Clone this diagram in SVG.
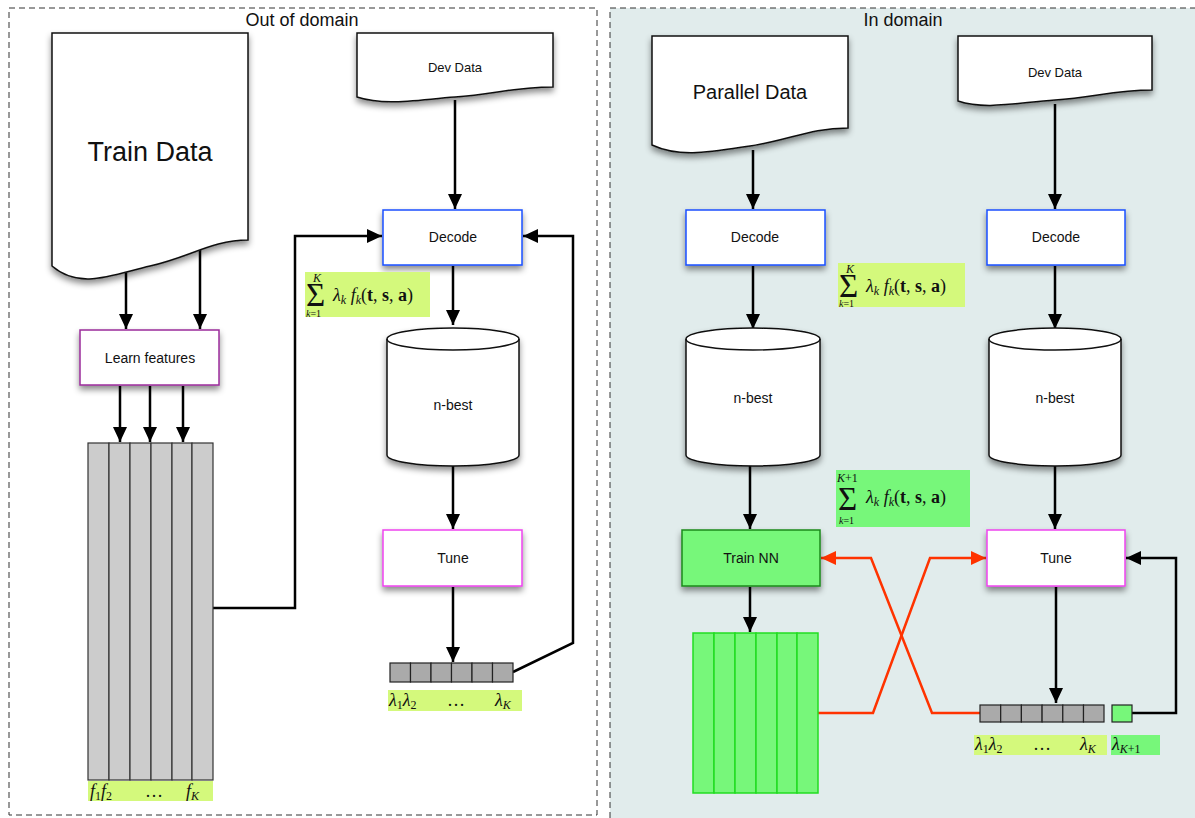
<svg xmlns="http://www.w3.org/2000/svg" width="1195" height="818" viewBox="0 0 1195 818">
<style>
.panel{fill:none;stroke:#333;stroke-width:1;stroke-dasharray:6 4}
.title{font-family:"Liberation Sans",Arial,sans-serif;font-size:18px;fill:#111;text-anchor:middle}
.lbl{font-family:"Liberation Sans",Arial,sans-serif;font-size:14px;fill:#111;text-anchor:middle}
.doc{fill:#fff;stroke:#111;stroke-width:1.5}
.box{fill:#fff;stroke-width:1.5}
.cyl{fill:#fff;stroke:#111;stroke-width:1.5}
.arr{fill:none;stroke:#000;stroke-width:2.5;marker-end:url(#ah)}
.red{fill:none;stroke:#ff3300;stroke-width:2.5}
.gcell{fill:#cccccc;stroke:#333;stroke-width:1.2}
.vcell{fill:#aaaaaa;stroke:#222;stroke-width:1.2}
.grcell{fill:#77f77a;stroke:#22dd22;stroke-width:1.5}
.yl{fill:#d4f97c}
.gl{fill:#77f77a}
.m{font-family:"Liberation Serif","Times New Roman",serif;font-style:italic;font-size:18px;fill:#111}
.ms{font-family:"Liberation Serif","Times New Roman",serif;font-style:italic;font-size:12px;fill:#111}
.lim{font-size:10px}
.up{font-style:normal}
.sig{font-family:"Liberation Serif","Times New Roman",serif;font-style:normal;font-size:33px;fill:#111}
</style>
<defs>
<marker id="ah" markerUnits="userSpaceOnUse" markerWidth="16" markerHeight="14" refX="15" refY="7" orient="auto"><path d="M0,0 L15,7 L0,14 z" fill="#000"/></marker>
<marker id="ahr" markerUnits="userSpaceOnUse" markerWidth="16" markerHeight="14" refX="15" refY="7" orient="auto"><path d="M0,0 L15,7 L0,14 z" fill="#ff3300"/></marker>
<filter id="sh" x="-20%" y="-20%" width="140%" height="150%"><feDropShadow dx="0" dy="4" stdDeviation="3" flood-color="#000" flood-opacity="0.45"/></filter>
</defs>

<g id="panels">
<rect x="9" y="8" width="588" height="807" class="panel" style="fill:#fff"/>
<rect x="610" y="8" width="590" height="815" class="panel" style="fill:#e1ecec"/>
<text x="302" y="26" class="title">Out of domain</text>
<text x="903" y="26" class="title">In domain</text>
</g>

<g id="connectors">
<path class="arr" d="M126,272 V329"/>
<path class="arr" d="M200,242 V329"/>
<path class="arr" d="M120,386 V442"/>
<path class="arr" d="M150,386 V442"/>
<path class="arr" d="M183,386 V442"/>
<path class="arr" d="M213,608 H295 V236 H382"/>
<path class="arr" d="M455,100 V209"/>
<path class="arr" d="M453,266 V325"/>
<path class="arr" d="M453,466 V529"/>
<path class="arr" d="M453,587 V662"/>
<path class="arr" d="M513,672 L573,643 V236 H523"/>
<path class="arr" d="M753,150 V209"/>
<path class="arr" d="M753,266 V329"/>
<path class="arr" d="M750,466 V529"/>
<path class="arr" d="M750,587 V632"/>
<path class="arr" d="M1055,104 V209"/>
<path class="arr" d="M1055,266 V329"/>
<path class="arr" d="M1055,466 V529"/>
<path class="arr" d="M1056,587 V703"/>
<path class="arr" d="M1132,713 H1176 V558 H1126"/>
<path class="red" d="M980,713 H932 L871,558 H821" marker-end="url(#ahr)"/>
<path class="red" d="M818,713 H873 L930,558 H986" marker-end="url(#ahr)"/>
</g>

<g id="train-data">
<path class="doc" filter="url(#sh)" d="M52,33 H248 V240 C212,240 188,258 150,266 C112,275 80,290 52,266 Z"/>
<text x="150" y="161" class="lbl" style="font-size:27px">Train Data</text>
</g>

<g id="learn-features">
<rect x="80" y="330" width="139" height="55" class="box" style="stroke:#9b2b9b" filter="url(#sh)"/>
<text x="150" y="363" class="lbl">Learn features</text>
</g>

<g id="feature-matrix">
<rect x="88" y="443" width="21" height="337" class="gcell"/>
<rect x="109" y="443" width="21" height="337" class="gcell"/>
<rect x="130" y="443" width="21" height="337" class="gcell"/>
<rect x="151" y="443" width="21" height="337" class="gcell"/>
<rect x="172" y="443" width="20" height="337" class="gcell"/>
<rect x="192" y="443" width="21" height="337" class="gcell"/>
<rect x="88" y="781" width="125" height="20" class="yl"/>
<text x="90" y="797" class="m">f<tspan dy="3" class="ms up">1</tspan><tspan dy="-3">f</tspan><tspan dy="3" class="ms up">2</tspan><tspan dy="-3" x="145" class="up">…</tspan><tspan x="186">f</tspan><tspan dy="3" class="ms">K</tspan></text>
</g>

<g id="dev-data-left">
<path class="doc" filter="url(#sh)" d="M357,33 H553 V87 C515,87 495,94 455,97 C415,100 385,106 357,97 Z"/>
<text x="455" y="72" class="lbl" style="font-size:13px">Dev Data</text>
</g>

<g id="decode-left">
<rect x="383" y="210" width="139" height="55" class="box" style="stroke:#1a4fff" filter="url(#sh)"/>
<text x="453" y="242" class="lbl">Decode</text>
</g>

<g id="formula-left">
<rect x="305" y="272" width="125" height="45" class="yl"/>
<text class="m"><tspan x="313" y="282" class="ms">K</tspan><tspan x="306" y="306" class="sig">Σ</tspan><tspan x="306" y="317" class="ms lim">k<tspan class="up">=1</tspan></tspan><tspan x="333" y="301">λ</tspan><tspan dy="3" class="ms">k</tspan><tspan dy="-3"> f</tspan><tspan dy="3" class="ms">k</tspan><tspan dy="-3" class="up">(<tspan font-weight="bold">t</tspan>, <tspan font-weight="bold">s</tspan>, <tspan font-weight="bold">a</tspan>)</tspan></text>
</g>

<g id="nbest-left">
<path class="cyl" filter="url(#sh)" d="M387,339 A66,11 0 0 1 519,339 V455 A66,11 0 0 1 387,455 Z"/>
<path d="M387,339 A66,11 0 0 0 519,339" fill="none" stroke="#111" stroke-width="1.5"/>
<text x="453" y="410" class="lbl">n-best</text>
</g>

<g id="tune-left">
<rect x="383" y="530" width="139" height="56" class="box" style="stroke:#ee44ee" filter="url(#sh)"/>
<text x="453" y="563" class="lbl">Tune</text>
</g>

<g id="lambda-left">
<rect x="390" y="663" width="20.5" height="19" class="vcell"/>
<rect x="410.5" y="663" width="20.5" height="19" class="vcell"/>
<rect x="431" y="663" width="20.5" height="19" class="vcell"/>
<rect x="451.5" y="663" width="20.5" height="19" class="vcell"/>
<rect x="472" y="663" width="20.5" height="19" class="vcell"/>
<rect x="492.5" y="663" width="20.5" height="19" class="vcell"/>
<rect x="388" y="690" width="134" height="21" class="yl"/>
<text x="389" y="706" class="m">λ<tspan dy="3" class="ms up">1</tspan><tspan dy="-3">λ</tspan><tspan dy="3" class="ms up">2</tspan><tspan dy="-3" x="447" class="up">…</tspan><tspan x="495">λ</tspan><tspan dy="3" class="ms">K</tspan></text>
</g>

<g id="parallel-data">
<path class="doc" filter="url(#sh)" d="M652,36 H848 V128 C810,128 790,140 750,146 C710,152 680,158 652,145 Z"/>
<text x="750" y="99" class="lbl" style="font-size:20px">Parallel Data</text>
</g>

<g id="decode-mid">
<rect x="686" y="210" width="139" height="55" class="box" style="stroke:#1a4fff" filter="url(#sh)"/>
<text x="755" y="242" class="lbl">Decode</text>
</g>

<g id="formula-mid">
<rect x="838" y="263" width="127" height="44" class="yl"/>
<text class="m"><tspan x="846" y="273" class="ms">K</tspan><tspan x="839" y="297" class="sig">Σ</tspan><tspan x="839" y="307" class="ms lim">k<tspan class="up">=1</tspan></tspan><tspan x="866" y="292">λ</tspan><tspan dy="3" class="ms">k</tspan><tspan dy="-3"> f</tspan><tspan dy="3" class="ms">k</tspan><tspan dy="-3" class="up">(<tspan font-weight="bold">t</tspan>, <tspan font-weight="bold">s</tspan>, <tspan font-weight="bold">a</tspan>)</tspan></text>
</g>

<g id="nbest-mid">
<path class="cyl" filter="url(#sh)" d="M686,339 A67,11 0 0 1 820,339 V455 A67,11 0 0 1 686,455 Z"/>
<path d="M686,339 A67,11 0 0 0 820,339" fill="none" stroke="#111" stroke-width="1.5"/>
<text x="753" y="403" class="lbl">n-best</text>
</g>

<g id="formula-k1">
<rect x="836" y="470" width="134" height="57" class="gl"/>
<text class="m"><tspan x="837" y="482" class="ms">K<tspan class="up">+1</tspan></tspan><tspan x="838" y="510" class="sig">Σ</tspan><tspan x="839" y="524" class="ms lim">k<tspan class="up">=1</tspan></tspan><tspan x="866" y="503">λ</tspan><tspan dy="3" class="ms">k</tspan><tspan dy="-3"> f</tspan><tspan dy="3" class="ms">k</tspan><tspan dy="-3" class="up">(<tspan font-weight="bold">t</tspan>, <tspan font-weight="bold">s</tspan>, <tspan font-weight="bold">a</tspan>)</tspan></text>
</g>

<g id="train-nn">
<rect x="682" y="530" width="138" height="56" style="fill:#77f77a;stroke:#1a8a1a;stroke-width:1.5" filter="url(#sh)"/>
<text x="751" y="563" class="lbl">Train NN</text>
</g>

<g id="nn-matrix">
<rect x="693" y="633" width="21" height="160" class="grcell"/>
<rect x="714" y="633" width="21" height="160" class="grcell"/>
<rect x="735" y="633" width="21" height="160" class="grcell"/>
<rect x="756" y="633" width="21" height="160" class="grcell"/>
<rect x="777" y="633" width="20" height="160" class="grcell"/>
<rect x="797" y="633" width="21" height="160" class="grcell"/>
</g>

<g id="dev-data-right">
<path class="doc" filter="url(#sh)" d="M958,36 H1152 V90 C1115,90 1095,97 1055,100 C1015,103 985,110 958,101 Z"/>
<text x="1055" y="77" class="lbl" style="font-size:13px">Dev Data</text>
</g>

<g id="decode-right">
<rect x="987" y="210" width="138" height="55" class="box" style="stroke:#1a4fff" filter="url(#sh)"/>
<text x="1056" y="242" class="lbl">Decode</text>
</g>

<g id="nbest-right">
<path class="cyl" filter="url(#sh)" d="M989,339 A66,11 0 0 1 1121,339 V455 A66,11 0 0 1 989,455 Z"/>
<path d="M989,339 A66,11 0 0 0 1121,339" fill="none" stroke="#111" stroke-width="1.5"/>
<text x="1055" y="403" class="lbl">n-best</text>
</g>

<g id="tune-right">
<rect x="987" y="530" width="138" height="56" class="box" style="stroke:#ee44ee" filter="url(#sh)"/>
<text x="1056" y="563" class="lbl">Tune</text>
</g>

<g id="lambda-right">
<rect x="980" y="705" width="20.7" height="17" class="vcell"/>
<rect x="1000.7" y="705" width="20.7" height="17" class="vcell"/>
<rect x="1021.4" y="705" width="20.7" height="17" class="vcell"/>
<rect x="1042.1" y="705" width="20.7" height="17" class="vcell"/>
<rect x="1062.8" y="705" width="20.7" height="17" class="vcell"/>
<rect x="1083.5" y="705" width="20.5" height="17" class="vcell"/>
<rect x="1112" y="705" width="20" height="17" style="fill:#77f77a;stroke:#222;stroke-width:1.2"/>
<rect x="974" y="735" width="133" height="20" class="yl"/>
<rect x="1111" y="735" width="49" height="20" class="gl"/>
<text x="975" y="750" class="m">λ<tspan dy="3" class="ms up">1</tspan><tspan dy="-3">λ</tspan><tspan dy="3" class="ms up">2</tspan><tspan dy="-3" x="1033" class="up">…</tspan><tspan x="1080">λ</tspan><tspan dy="3" class="ms">K</tspan></text>
<text x="1112" y="750" class="m">λ<tspan dy="3" class="ms">K<tspan class="up">+1</tspan></tspan></text>
</g>
</svg>
